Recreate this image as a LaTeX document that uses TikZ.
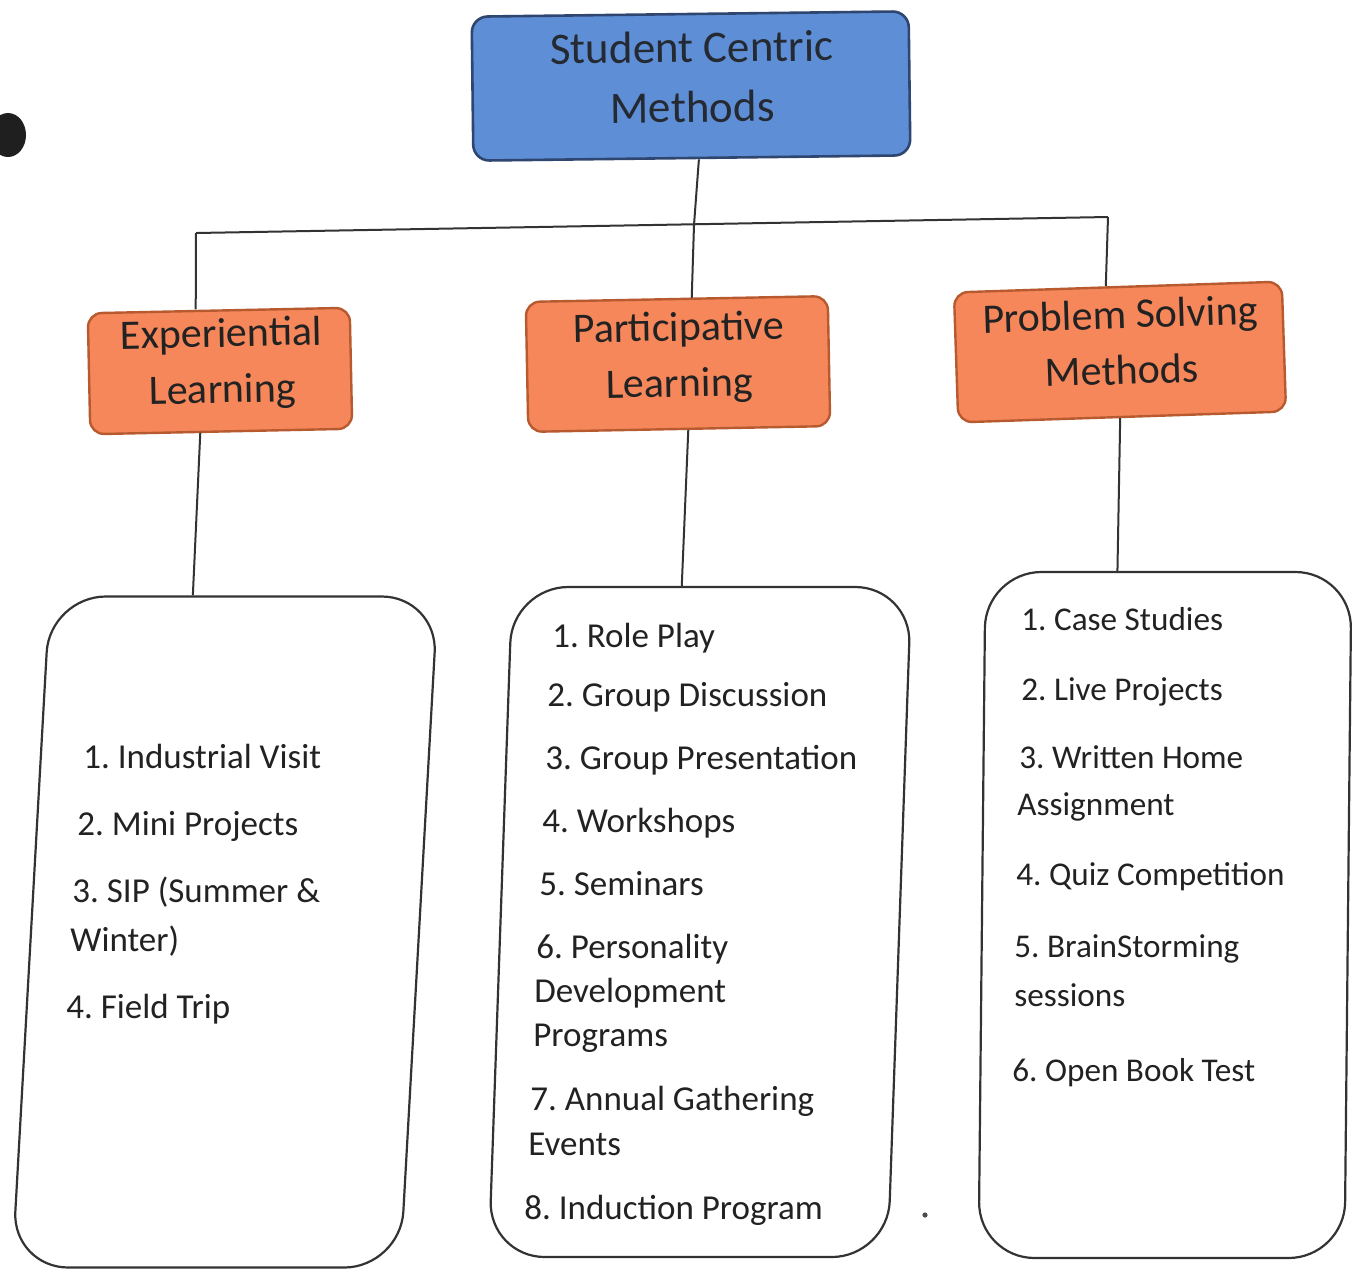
\documentclass[tikz,border=0pt]{standalone}
\usepackage{fontspec}
\setmainfont{Carlito}
\usetikzlibrary{calc}
\definecolor{topfill}{HTML}{5E8FD6}
\definecolor{topdraw}{HTML}{2E4670}
\definecolor{orfill}{HTML}{F5875A}
\definecolor{ordraw}{HTML}{B85A30}
\definecolor{ink}{HTML}{222222}
\definecolor{lineink}{HTML}{333333}
\tikzset{
  topbox/.style={draw=topdraw, fill=topfill, line width=1.3pt, rounded corners=8pt, inner sep=0pt},
  toptext/.style={inner sep=0pt, align=center, text=ink!80!topdraw, font=\fontsize{22.5}{30}\selectfont},
  catbox/.style={draw=ordraw, fill=orfill, line width=1.2pt, rounded corners=7pt, inner sep=0pt},
  cattext/.style={inner sep=0pt, align=center, text=ink, font=\fontsize{21}{28}\selectfont},
  listbox/.style={draw=lineink, line width=1.1pt, rounded corners=28pt, inner sep=0pt},
  item/.style={anchor=base west, inner sep=0pt, text=ink, font=\fontsize{17.5}{21}\selectfont},
  ritem/.style={anchor=base west, inner sep=0pt, text=ink, font=\fontsize{16.6}{20}\selectfont},
  conn/.style={draw=lineink, line width=1pt}
}
\begin{document}
\frenchspacing
\begin{tikzpicture}[x=0.5pt,y=-0.5pt]
\useasboundingbox (0,0) rectangle (1356,1271);
\fill[white] (0,0) rectangle (1356,1271);
% scan mark
\fill[black!88] (8,135) ellipse [x radius=9pt, y radius=11pt];
\fill[black!70] (925,1215) circle (1.3pt);

% top box
\node[topbox, minimum width=218.5pt, minimum height=72pt, rotate=0.7] (top) at (691,86) {};
\node[toptext, rotate=0.7] (toplbl) at (692,77) {Student Centric\\Methods};

% category boxes
\node[catbox, minimum width=131pt, minimum height=60.5pt, rotate=1.2] (exp) at (220,371) {};
\node[cattext, rotate=1.2] (explbl) at (222,364) {Experiential\\Learning};
\node[catbox, minimum width=151pt, minimum height=65pt, rotate=1.1] (part) at (678,364) {};
\node[cattext, rotate=1.1] (partlbl) at (679,358) {Participative\\Learning};
\node[catbox, minimum width=164pt, minimum height=65pt, rotate=1.9] (prob) at (1120,352) {};
\node[cattext, rotate=1.9] (problbl) at (1121,342) {Problem Solving\\Methods};

% list boxes
\node[listbox, minimum width=194pt, minimum height=335.5pt, xslant=0.056] (wl) at (225,932) {};
\node[listbox, minimum width=199.5pt, minimum height=335pt, xslant=0.035] (wm) at (700,922) {};
\node[listbox, minimum width=183pt, minimum height=343pt, xslant=0.01] (wr) at (1165,915) {};

% junctions
\coordinate (jl) at (196,233);
\coordinate (jm) at (694,225);
\coordinate (jr) at (1108,217);

% connectors
\draw[conn] ([xshift=3.5pt]top.south) -- (jm) -- ([xshift=7.5pt]part.north);
\draw[conn] (jl) -- (jr);
\draw[conn] (jl) -- ([xshift=-11.5pt]exp.north);
\draw[conn] (jr) -- ([xshift=-6pt]prob.north);
\draw[conn] ([xshift=-10.5pt]exp.south) -- ([xshift=-25.5pt]wl.north);
\draw[conn] ([xshift=4.5pt]part.south) -- ([xshift=-15pt]wm.north);
\draw[conn] ([xshift=-1pt]prob.south) -- ([xshift=-25.5pt]wr.north);

% left list
\node[item] (l1) at (83,768) {1. Industrial Visit};
\node[item] (l2) at (77,835) {2. Mini Projects};
\node[item] (l3) at (72,902) {3. SIP (Summer \&};
\node[item] (l4) at (70,951) {Winter)};
\node[item] (l5) at (66,1018) {4. Field Trip};

% middle list
\node[item] (m1) at (552,647) {1. Role Play};
\node[item] (m2) at (547,706) {2. Group Discussion};
\node[item] (m3) at (545,769) {3. Group Presentation};
\node[item] (m4) at (542,832) {4. Workshops};
\node[item] (m5) at (539,895) {5. Seminars};
\node[item] (m6) at (536,958) {6. Personality};
\node[item] (m7) at (534,1002) {Development};
\node[item] (m8) at (533,1046) {Programs};
\node[item] (m9) at (530,1110) {7. Annual Gathering};
\node[item] (m10) at (528,1155) {Events};
\node[item] (m11) at (524,1219) {8. Induction Program};

% right list
\node[ritem] (r1) at (1021,630) {1. Case Studies};
\node[ritem] (r2) at (1021,700) {2. Live Projects};
\node[ritem] (r3) at (1019,768) {3. Written Home};
\node[ritem] (r4) at (1017,815) {Assignment};
\node[ritem] (r5) at (1016,885) {4. Quiz Competition};
\node[ritem] (r6) at (1014,957) {5. BrainStorming};
\node[ritem] (r7) at (1014,1006) {sessions};
\node[ritem] (r8) at (1012,1081) {6. Open Book Test};
\end{tikzpicture}
\end{document}
